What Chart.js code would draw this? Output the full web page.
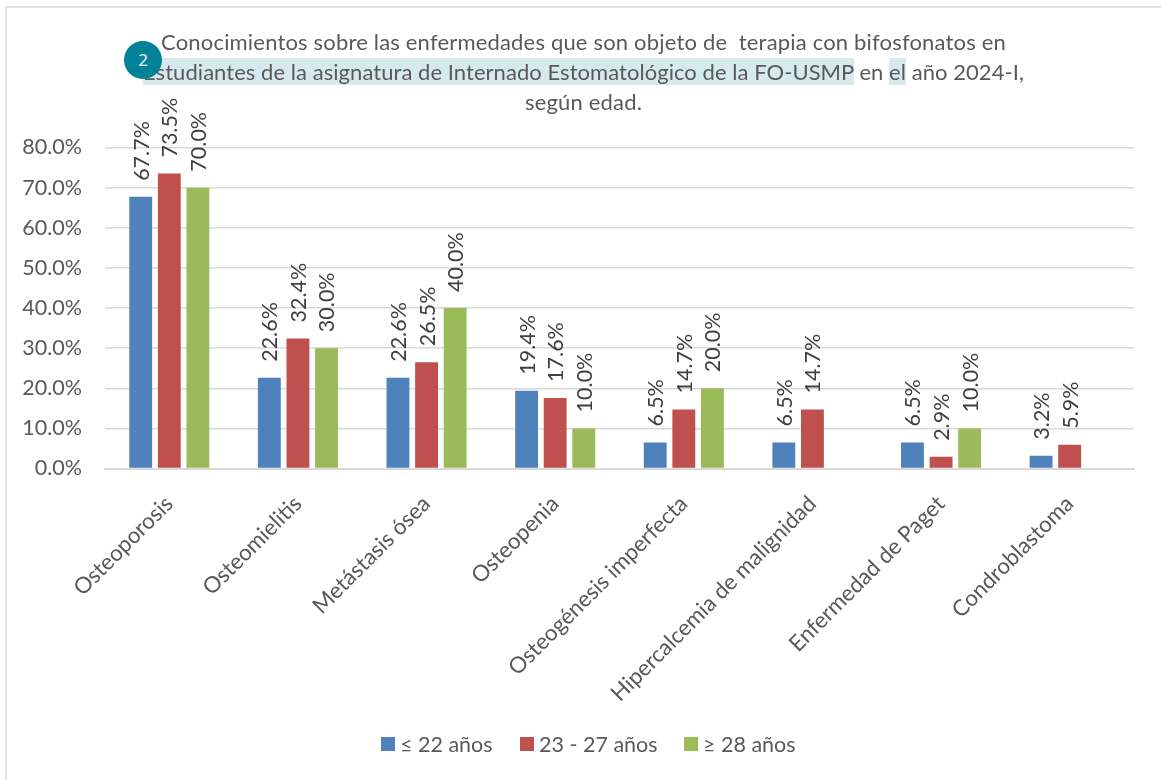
<!DOCTYPE html>
<html><head><meta charset="utf-8">
<style>
html,body{margin:0;padding:0;background:#fff;width:1161px;height:780px;overflow:hidden}
#frame{position:absolute;left:5px;top:6px;width:1160px;height:790px;border:2px solid #e3e3e3;box-sizing:border-box}
canvas{position:absolute;left:0;top:0}
.t{position:absolute;left:0;width:1167px;text-align:center;font:22px Lato,sans-serif;letter-spacing:.18px;color:#595959;white-space:pre;line-height:30px}
.h{background:#d6eaee}
#badge{position:absolute;left:124px;top:41px;width:38px;height:38px;border-radius:50%;background:#038199;color:#fff;font:17px "Open Sans",sans-serif;line-height:38px;text-align:center}
#legend{position:absolute;top:729px;left:381px;height:30px;font:21.5px Lato,sans-serif;color:#595959;white-space:pre}
#legend i{position:absolute;top:8px;width:14px;height:14px}
#legend span{position:absolute;top:0;line-height:30px}
</style>
<script src="https://cdn.jsdelivr.net/npm/chart.js@4"></script>
</head><body>
<div id="frame"></div>
<canvas id="c" width="1161" height="780"></canvas>
<div class="t" style="top:27px">Conocimientos sobre las enfermedades que son objeto de  terapia con bifosfonatos en</div>
<div class="t" style="top:57px;letter-spacing:.05px"><span class="h">Estudiantes de la asignatura de Internado Estomatológico de la FO-USMP</span> en <span class="h">el</span> año 2024-I,</div>
<div class="t" style="top:87px">según edad.</div>
<div id="badge">2</div>
<div id="legend"></div>
<script>
const categories=["Osteoporosis","Osteomielitis","Metástasis ósea","Osteopenia","Osteogénesis imperfecta","Hipercalcemia de malignidad","Enfermedad de Paget","Condroblastoma"];
const young=[67.7,22.6,22.6,19.4,6.5,6.5,6.5,3.2];
const middle=[73.5,32.4,26.5,17.6,14.7,14.7,2.9,5.9];
const older=[70.0,30.0,40.0,10.0,20.0,null,10.0,null];
const seriesNames=["≤ 22 años","23 - 27 años","≥ 28 años"];
const seriesColors=["#4f81bd","#c0504d","#9bbb59"];
const legendOffsets=[0,139,303];
const FONT="Lato, sans-serif";
const legend=document.getElementById("legend");
seriesNames.forEach((n,i)=>{
  const sw=document.createElement("i");sw.style.left=legendOffsets[i]+"px";sw.style.background=seriesColors[i];legend.appendChild(sw);
  const tx=document.createElement("span");tx.style.left=(legendOffsets[i]+19)+"px";tx.textContent=n;legend.appendChild(tx);
});
const labelPlugin={id:"valueLabels",afterDatasetsDraw(chart){
  const ctx=chart.ctx;
  chart.data.datasets.forEach((ds,i)=>{
    chart.getDatasetMeta(i).data.forEach((bar,j)=>{
      const v=ds.data[j]; if(v==null) return;
      ctx.save();ctx.translate(bar.x+1,bar.y-16);ctx.rotate(-Math.PI/2);
      ctx.font="21.5px "+FONT;ctx.fillStyle="#404040";ctx.textAlign="left";ctx.textBaseline="middle";
      ctx.fillText(v.toFixed(1)+"%",0,0);ctx.restore();
    });
  });
}};
new Chart(document.getElementById("c"),{
  type:"bar",
  data:{labels:categories,datasets:[young,middle,older].map((d,i)=>({label:seriesNames[i],data:d,backgroundColor:seriesColors[i],categoryPercentage:0.667,barPercentage:0.8}))},
  plugins:[labelPlugin],
  options:{
    responsive:false,animation:false,
    layout:{padding:{top:147.5,right:27,left:0,bottom:0}},
    plugins:{title:{display:false},tooltip:{enabled:false},legend:{display:false}},
    scales:{
      x:{afterFit(s){s.height=311.5},grid:{drawOnChartArea:false,drawTicks:false,color:"#d9d9d9",lineWidth:2},border:{color:"#d9d9d9",width:2},
         ticks:{font:{family:FONT,size:22.3},color:"#595959",minRotation:45,maxRotation:45,padding:22}},
      y:{min:0,max:80,grid:{color:"#d9d9d9",lineWidth:1.5,drawTicks:false},border:{display:false},afterFit(s){s.width=105},
         ticks:{stepSize:10,font:{family:FONT,size:21.5},color:"#595959",padding:23,callback:v=>v.toFixed(1)+"%"}}
    }
  }
});
</script>
</body></html>
